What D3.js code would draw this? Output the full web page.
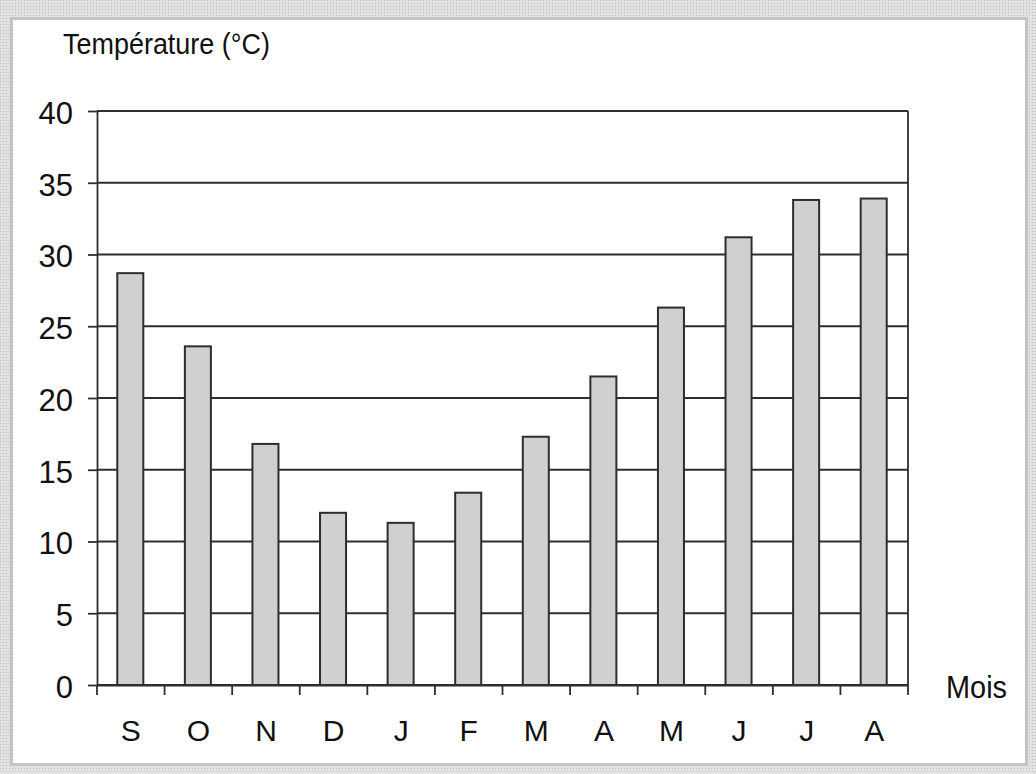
<!DOCTYPE html>
<html><head><meta charset="utf-8">
<script src="https://cdn.jsdelivr.net/npm/d3@7"></script>
<style>html,body{margin:0;padding:0;background:#fff;}svg{display:block;}</style>
</head><body>
<script>
const months = ["S","O","N","D","J","F","M","A","M","J","J","A"];
const temps = [28.7, 23.6, 16.8, 12.0, 11.3, 13.4, 17.3, 21.5, 26.3, 31.2, 33.8, 33.9];
const yTicks = [0,5,10,15,20,25,30,35,40];
const yTitle = "Température (°C)";
const xTitle = "Mois";

(function(){
const W = 1036, H = 774;
const svg = d3.select("body").append("svg").attr("width", W).attr("height", H);
const defs = svg.append("defs");
const pat = defs.append("pattern").attr("id","dots").attr("width",3).attr("height",3).attr("patternUnits","userSpaceOnUse");
pat.append("rect").attr("width",3).attr("height",3).attr("fill","#e2e2e2");
pat.append("rect").attr("width",1).attr("height",1).attr("fill","#bdbdbd");
svg.append("rect").attr("width",W).attr("height",H).attr("fill","url(#dots)");
svg.append("rect").attr("x",10).attr("y",17).attr("width",1018).attr("height",749).attr("fill","#c4c4c4");
svg.append("rect").attr("x",13).attr("y",20).attr("width",1012).attr("height",743).attr("fill","#fff");

const pL = 97, pR = 908, pT = 111, pB = 685;
const x = d3.scaleBand().domain(d3.range(months.length)).range([pL, pR]).paddingInner(0.615).paddingOuter(0.3075);
const y = d3.scaleLinear().domain([0,40]).range([pB, pT]);
const font = "'Liberation Sans', Arial, sans-serif";
const stroke = "#2e2e2e";

svg.append("g").selectAll("line").data(yTicks).join("line")
  .attr("x1", pL).attr("x2", pR).attr("y1", d=>y(d)).attr("y2", d=>y(d))
  .attr("stroke", stroke).attr("stroke-width", 1.8);
svg.append("line").attr("x1",pR).attr("x2",pR).attr("y1",pT).attr("y2",pB).attr("stroke",stroke).attr("stroke-width",1.8);

svg.append("g").selectAll("rect").data(temps).join("rect")
  .attr("x", (d,i)=>x(i) - 0.5).attr("width", x.bandwidth())
  .attr("y", d=>y(d)).attr("height", d=>pB - y(d))
  .attr("fill","#d0d0d0").attr("stroke",stroke).attr("stroke-width",2);

const yAxis = d3.axisLeft(y).tickValues(yTicks).tickSize(9).tickPadding(15).tickSizeOuter(0);
const gy = svg.append("g").attr("transform",`translate(${pL},0)`).call(yAxis);
gy.select(".domain").attr("stroke",stroke).attr("stroke-width",1.8);
gy.selectAll(".tick line").attr("stroke",stroke).attr("stroke-width",1.8);
gy.selectAll(".tick text").attr("font-family",font).attr("font-size",31).attr("fill","#111").attr("dy","0.4em");

const xAxis = d3.axisBottom(x).tickFormat(i=>months[i]).tickSize(0).tickPadding(0).tickSizeOuter(0);
const gx = svg.append("g").attr("transform",`translate(0,${pB})`).call(xAxis);
gx.select(".domain").attr("stroke",stroke).attr("stroke-width",1.8);
gx.selectAll(".tick text").attr("font-family",font).attr("font-size",30).attr("fill","#111").attr("y",56).attr("dy",0);
const bounds = d3.range(months.length+1).map(i=>pL + i*x.step());
svg.append("g").selectAll("line").data(bounds).join("line")
  .attr("x1",d=>d).attr("x2",d=>d).attr("y1",pB).attr("y2",pB+10)
  .attr("stroke",stroke).attr("stroke-width",1.8);

svg.append("text").attr("x",63).attr("y",54).attr("font-family",font).attr("font-size",30).attr("fill","#111")
  .attr("textLength",207).attr("lengthAdjust","spacingAndGlyphs").text(yTitle);
svg.append("text").attr("x",946).attr("y",698).attr("font-family",font).attr("font-size",31).attr("fill","#111")
  .attr("textLength",61).attr("lengthAdjust","spacingAndGlyphs").text(xTitle);
})();
</script>
</body></html>
